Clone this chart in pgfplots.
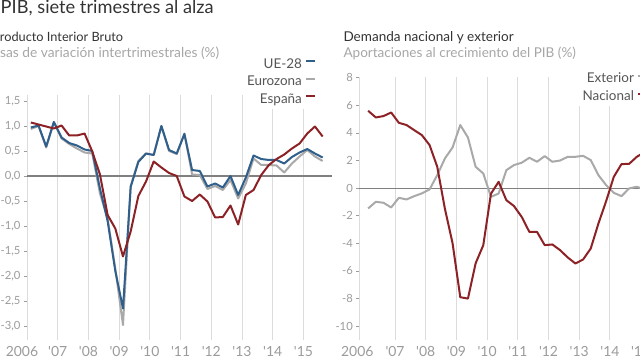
\documentclass[border=0pt]{standalone}
\usepackage{fontspec}
\setmainfont{Lato}
\usepackage{pgfplots}
\usepackage{pgfplotstable}
\pgfplotsset{compat=1.18}
\definecolor{cblue}{HTML}{2F5F8A}
\definecolor{cgray}{HTML}{A9A9A9}
\definecolor{cred}{HTML}{8C2226}
\definecolor{cgrid}{HTML}{DCDCDC}
\definecolor{czero}{HTML}{808080}
\definecolor{ctick}{HTML}{9B9B9B}
\definecolor{csub}{HTML}{A6A6A6}
\definecolor{ctitle}{HTML}{333333}
\definecolor{clegend}{HTML}{555555}

\pgfplotstableread{
x es ue ez
2006.125 1.07 0.97 0.94
2006.375 1.03 1.01 1.00
2006.625 0.99 0.59 0.57
2006.875 0.95 1.08 1.08
2007.125 1.01 0.77 0.75
2007.375 0.81 0.66 0.64
2007.625 0.81 0.61 0.55
2007.875 0.85 0.53 0.47
2008.125 0.49 0.50 0.45
2008.375 0.03 -0.25 -0.35
2008.625 -0.78 -0.90 -0.85
2008.875 -1.05 -1.90 -1.85
2009.125 -1.61 -2.65 -2.98
2009.375 -1.11 -0.22 -0.20
2009.625 -0.40 0.28 0.30
2009.875 -0.11 0.45 0.45
2010.125 0.29 0.42 0.42
2010.375 0.17 1.00 1.00
2010.625 0.06 0.52 0.50
2010.875 0.00 0.45 0.44
2011.125 -0.41 0.84 0.85
2011.375 -0.50 0.12 0.03
2011.625 -0.37 0.10 0.02
2011.875 -0.51 -0.21 -0.26
2012.125 -0.83 -0.15 -0.20
2012.375 -0.82 -0.23 -0.28
2012.625 -0.59 0.00 -0.08
2012.875 -0.97 -0.38 -0.45
2013.125 -0.38 -0.03 -0.15
2013.375 -0.28 0.41 0.35
2013.625 0.02 0.34 0.22
2013.875 0.22 0.32 0.22
2014.125 0.34 0.32 0.21
2014.375 0.43 0.25 0.07
2014.625 0.55 0.38 0.25
2014.875 0.65 0.47 0.39
2015.125 0.85 0.54 0.52
2015.375 0.99 0.45 0.39
2015.625 0.79 0.37 0.30
}\pibtable

\pgfplotstableread{
x nac ext
2006.125 5.60 -1.47
2006.375 5.12 -0.99
2006.625 5.22 -1.06
2006.875 5.48 -1.40
2007.125 4.73 -0.70
2007.375 4.57 -0.82
2007.625 4.20 -0.58
2007.875 3.84 -0.38
2008.125 3.12 -0.09
2008.375 1.55 0.94
2008.625 -1.50 2.15
2008.875 -4.00 2.95
2009.125 -7.90 4.57
2009.375 -8.00 3.67
2009.625 -5.45 1.55
2009.875 -4.13 1.06
2010.125 -0.40 -0.63
2010.375 0.46 -0.39
2010.625 -0.87 1.30
2010.875 -1.30 1.67
2011.125 -2.08 1.84
2011.375 -3.17 2.20
2011.625 -3.17 1.91
2011.875 -4.13 2.32
2012.125 -4.08 1.91
2012.375 -4.49 2.00
2012.625 -5.02 2.27
2012.875 -5.46 2.27
2013.125 -5.17 2.34
2013.375 -4.37 2.03
2013.625 -2.56 0.94
2013.875 -0.95 0.22
2014.125 0.82 -0.34
2014.375 1.74 -0.58
2014.625 1.76 -0.02
2014.875 2.27 0.10
2015.125 2.60 -0.10
2015.375 2.90 -0.30
2015.625 2.70 -0.20
}\demtable

\pgfplotsset{
  panel/.style={
    scale only axis,
    axis x line*=bottom, axis y line*=left,
    every outer x axis line/.append style={-},
    every outer y axis line/.append style={-},
    x axis line style={draw=none},
    y axis line style={draw=cgrid, line width=1bp, -},
    xtick pos=bottom, ytick pos=left,
    tick align=outside, major tick length=3bp,
    xtick style={draw=none},
    ytick style={draw=ctick, line width=0.6bp},
    xmajorgrids, ymajorgrids=false,
    major grid style={draw=cgrid, line width=1bp},
    ticklabel style={text=ctick},
    yticklabel style={font=\fontsize{11.3}{13}\selectfont},
    xticklabel style={font=\fontsize{14}{16}\selectfont},
    /pgf/number format/assume math mode=true,
    xtick={2007,2008,2009,2010,2011,2012,2013,2014,2015},
    xticklabels={\textquotesingle07,\textquotesingle08,\textquotesingle09,\textquotesingle10,\textquotesingle11,\textquotesingle12,\textquotesingle13,\textquotesingle14,\textquotesingle15},
    extra x ticks={2006}, extra x tick labels={2006},
    clip=false,
    legend style={draw=none, fill=white, font=\fontsize{13.5}{15}\selectfont, text=clegend,
      legend cell align=right, row sep=2.3bp, column sep=2bp, inner xsep=2bp, inner ysep=1bp,
      nodes={inner sep=1.5bp, text height=9bp, text depth=3bp}},
    legend plot pos=right,
    legend image code/.code={\draw[#1] (0bp,4bp) -- (9bp,4bp);},
  },
  series/.style={line width=2bp, line join=round},
}

\begin{document}
\begin{tikzpicture}[x=1bp,y=1bp]
\useasboundingbox (0,0) rectangle (640,360);

\node[anchor=base west, inner sep=0, font=\fontsize{18.3}{21}\selectfont, text=ctitle] at (0.5,346.7) {PIB, siete trimestres al alza};
\node[anchor=base west, inner sep=0, font=\fontsize{12.8}{15}\selectfont, text=ctitle] at (-7.8,318.3) {Producto Interior Bruto};
\node[anchor=base west, inner sep=0, font=\fontsize{13.8}{15}\selectfont, text=csub] at (-13.5,302.5) {Tasas de variación intertrimestrales (\%)};
\node[anchor=base west, inner sep=0, font=\fontsize{13.6}{16}\selectfont, text=ctitle] at (343.3,318.3) {Demanda nacional y exterior};
\node[anchor=base west, inner sep=0, font=\fontsize{13.6}{15}\selectfont, text=csub] at (343.3,302.5) {Aportaciones al crecimiento del PIB (\%)};

\begin{axis}[panel,
  at={(27bp,265bp)}, anchor=north west,
  width=305bp, height=245bp,
  xmin=2006, xmax=2015.93, ymin=-3.28, ymax=1.62,
  ytick={-3,-2.5,-2,-1.5,-1,-0.5,0,0.5,1,1.5},
  yticklabel style={/pgf/number format/.cd, fixed, fixed zerofill, precision=1, use comma},
  extra x tick style={grid=none, xticklabel style={xshift=-5bp}},
  legend style={at={(0.956,1.156)}, anchor=north east},
]
\addplot[czero, line width=1.2bp, forget plot] coordinates {(2006,0) (2015.93,0)};
\addplot[series, cgray, forget plot] table[x=x, y=ez] {\pibtable};
\addplot[series, cblue, forget plot] table[x=x, y=ue] {\pibtable};
\addplot[series, cred, forget plot] table[x=x, y=es] {\pibtable};
\addlegendimage{cblue, line width=2bp}
\addlegendentry{UE-28}
\addlegendimage{cgray, line width=2bp}
\addlegendentry{Eurozona}
\addlegendimage{cred, line width=2bp}
\addlegendentry{España}
\end{axis}

\begin{axis}[panel,
  at={(359.3bp,283bp)}, anchor=north west,
  width=309.9bp, height=263bp,
  xmin=2005.837, xmax=2015.93, ymin=-11, ymax=8.05,
  ytick={-10,-8,-6,-4,-2,0,2,4,6,8},
  yticklabel style={/pgf/number format/.cd, fixed, precision=0},
  extra x tick style={grid=none, xticklabel style={xshift=-7bp}},
  legend style={at={(0.94,1.022)}, anchor=north east, row sep=2.6bp},
]
\addplot[czero, line width=1.2bp, forget plot] coordinates {(2005.837,0) (2015.93,0)};
\addplot[series, cgray, forget plot] table[x=x, y=ext] {\demtable};
\addplot[series, cred, forget plot] table[x=x, y=nac] {\demtable};
\addlegendimage{cgray, line width=2bp}
\addlegendentry{Exterior}
\addlegendimage{cred, line width=2bp}
\addlegendentry{Nacional}
\end{axis}
\end{tikzpicture}
\end{document}
